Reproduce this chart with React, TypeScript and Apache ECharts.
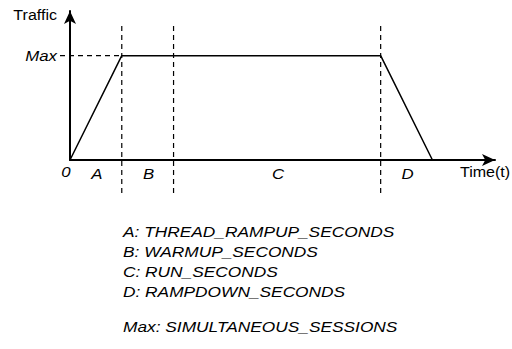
import React, { useEffect, useRef } from 'react';
import * as echarts from 'echarts';

// ---- data ----
const phaseNames = ['A', 'B', 'C', 'D'];
const phaseDurations = [12, 12, 48, 12];
const maxTraffic = 70;
const xAxisMax = 98.5;
const yAxisMax = 100;
const yAxisName = 'Traffic';
const xAxisName = 'Time(t)';
const originLabel = '0';
const maxLabel = 'Max';
const legendLines = [
  'A: THREAD_RAMPUP_SECONDS',
  'B: WARMUP_SECONDS',
  'C: RUN_SECONDS',
  'D: RAMPDOWN_SECONDS',
];
const maxLegendLine = 'Max: SIMULTANEOUS_SESSIONS';

// derived
const boundaries: number[] = [0];
phaseDurations.forEach((d, i) => boundaries.push(boundaries[i] + d));
const trafficPoints = [
  [boundaries[0], 0],
  [boundaries[1], maxTraffic],
  [boundaries[3], maxTraffic],
  [boundaries[4], 0],
];
const dashedBoundaries = [boundaries[1], boundaries[2], boundaries[3]];
const phaseMids = phaseNames.map((n, i) => [(boundaries[i] + boundaries[i + 1]) / 2, n]);

const FONT = '"Liberation Sans", Arial, Helvetica, sans-serif';
const SX = 1.12;
const SX_LEGEND = 1.155;

export default function App() {
  const ref = useRef<HTMLDivElement>(null);
  useEffect(() => {
    document.body.style.margin = '0';
    const chart = echarts.init(ref.current!, null, { renderer: 'svg' });
    const axisLine = {
      show: true,
      symbol: ['none', 'arrow'],
      symbolSize: [9, 13],
      lineStyle: { color: '#000', width: 2 },
    };
    chart.setOption({
      animation: false,
      backgroundColor: '#fff',
      grid: { left: 70, right: 17, top: 11, bottom: 189, containLabel: false },
      xAxis: {
        type: 'value', min: 0, max: xAxisMax,
        axisLine, axisTick: { show: false }, axisLabel: { show: false }, splitLine: { show: false },
      },
      yAxis: {
        type: 'value', min: 0, max: yAxisMax,
        axisLine, axisTick: { show: false }, axisLabel: { show: false }, splitLine: { show: false },
      },
      graphic: [
        {
          type: 'text', x: 57, y: 15, scaleX: 1.07,
          style: { text: yAxisName, font: `15px ${FONT}`, fill: '#000', align: 'right', verticalAlign: 'middle' },
        },
        {
          type: 'text', x: 460, y: 172, scaleX: 1.07,
          style: { text: xAxisName, font: `15px ${FONT}`, fill: '#000', align: 'left', verticalAlign: 'middle' },
        },
        {
          type: 'text', x: 123, y: 221, scaleX: SX_LEGEND,
          style: { text: legendLines.join('\n'), font: `italic 15px ${FONT}`, fill: '#000', lineHeight: 20, align: 'left', verticalAlign: 'top' },
        },
        {
          type: 'text', x: 123, y: 326, scaleX: SX_LEGEND,
          style: { text: maxLegendLine, font: `italic 15px ${FONT}`, fill: '#000', align: 'left', verticalAlign: 'middle' },
        },
      ],
      series: [
        {
          type: 'line',
          data: trafficPoints,
          symbol: 'none',
          lineStyle: { color: '#000', width: 1.5 },
          z: 3,
        },
        {
          type: 'custom',
          data: dashedBoundaries,
          clip: false,
          renderItem: (params: any, api: any) => {
            const x = api.value(0);
            const p0 = api.coord([x, 0]);
            const pm = api.coord([x, maxTraffic]);
            return {
              type: 'line',
              shape: { x1: p0[0], y1: p0[1] + 33, x2: p0[0], y2: pm[1] - 31 },
              style: { stroke: '#000', lineWidth: 1.2, lineDash: [5, 4] },
            };
          },
          z: 2,
        },
        {
          type: 'custom',
          data: [[0, maxTraffic, boundaries[1]]],
          clip: false,
          renderItem: (params: any, api: any) => {
            const a = api.coord([api.value(0), api.value(1)]);
            const b = api.coord([api.value(2), api.value(1)]);
            return {
              type: 'group',
              children: [
                {
                  type: 'line',
                  shape: { x1: a[0] - 10, y1: a[1], x2: b[0], y2: b[1] },
                  style: { stroke: '#000', lineWidth: 1.2, lineDash: [5, 4] },
                },
                {
                  type: 'text', x: a[0] - 13, y: a[1], scaleX: SX,
                  style: { text: maxLabel, font: `italic 15px ${FONT}`, fill: '#000', align: 'right', verticalAlign: 'middle' },
                },
                {
                  type: 'text', x: a[0] - 4, y: api.coord([0, 0])[1] + 12, scaleX: SX,
                  style: { text: originLabel, font: `italic 15px ${FONT}`, fill: '#000', align: 'center', verticalAlign: 'middle' },
                },
              ],
            };
          },
          z: 2,
        },
        {
          type: 'custom',
          data: phaseMids,
          clip: false,
          renderItem: (params: any, api: any) => {
            const mid = phaseMids[params.dataIndex];
            const p = api.coord([mid[0], 0]);
            return {
              type: 'text', x: p[0] + 1, y: p[1] + 13.5, scaleX: SX,
              style: { text: String(mid[1]), font: `italic 15px ${FONT}`, fill: '#000', align: 'center', verticalAlign: 'middle' },
            };
          },
          z: 2,
        },
      ],
    });
    return () => chart.dispose();
  }, []);
  return <div ref={ref} style={{ width: 512, height: 349 }} />;
}
